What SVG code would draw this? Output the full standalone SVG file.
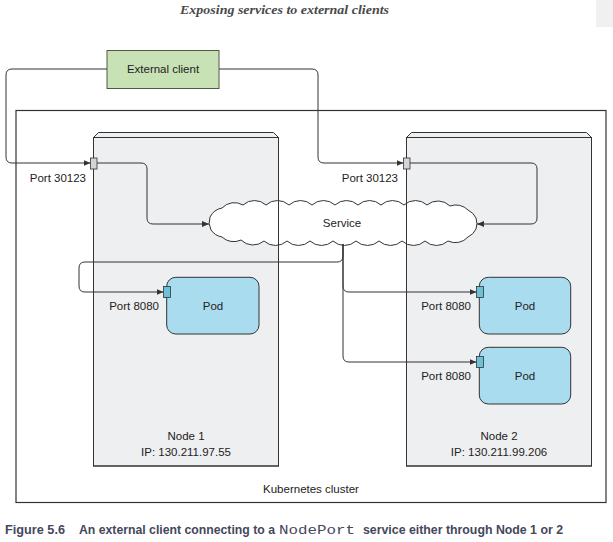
<svg xmlns="http://www.w3.org/2000/svg" width="613" height="542" viewBox="0 0 613 542">
<style>
  .lbl { font-family: "Liberation Sans", Arial, sans-serif; font-size: 11.5px; fill: #222; }
  .mid { text-anchor: middle; }
  .end { text-anchor: end; }
  .node { fill: #eeeff1; stroke: #333; stroke-width: 1; }
  .edge { fill: none; stroke: #333; stroke-width: 1; }
  .pod { fill: #a9dcee; stroke: #333; stroke-width: 1; }
  .nport { fill: #d4d4d6; stroke: #333; stroke-width: 0.8; }
  .pport { fill: #6cc0d8; stroke: #333; stroke-width: 0.8; }
  .conn { fill: none; stroke: #333; stroke-width: 1; }
  .cap { font-family: "Liberation Sans", Arial, sans-serif; font-size: 12px; font-weight: bold; fill: #45475c; }
</style>
<defs>
  <marker id="arr" markerUnits="userSpaceOnUse" markerWidth="8" markerHeight="6" refX="7" refY="3" orient="auto">
    <path d="M0,0 L7,3 L0,6 z" fill="#333"/>
  </marker>
</defs>
<rect width="613" height="542" fill="#ffffff"/>
<rect x="596" y="0" width="17" height="27" fill="#f0f0f0"/>
<text x="180" y="14" font-family="Liberation Serif, 'Times New Roman', serif" font-style="italic" font-weight="bold" font-size="13.5" fill="#4a4a4a" textLength="209" lengthAdjust="spacingAndGlyphs">Exposing services to external clients</text>

<g id="cluster">
  <rect x="16" y="110.5" width="590" height="392" fill="none" stroke="#333" stroke-width="1.2"/>
  <text class="lbl mid" x="311" y="493">Kubernetes cluster</text>
</g>

<g id="node1">
  <path class="node" d="M98.5,132.5 H273.5 L278.5,137.5 H93.5 Z"/>
  <rect class="node" x="93.5" y="137.5" width="185" height="328.5"/>
  <text class="lbl mid" x="186" y="440">Node 1</text>
  <text class="lbl mid" x="186" y="456">IP: 130.211.97.55</text>
</g>
<g id="node2">
  <path class="node" d="M411.5,132.5 H586.5 L591.5,137.5 H406.5 Z"/>
  <rect class="node" x="406.5" y="137.5" width="185" height="328.5"/>
  <text class="lbl mid" x="499" y="440">Node 2</text>
  <text class="lbl mid" x="499" y="456">IP: 130.211.99.206</text>
</g>

<g id="service">
  <path fill="#fff" stroke="#333" stroke-width="1" d="M210,217 A17,17 0 0 1 222,208 A17,17 0 0 1 243,205 A17,17 0 0 1 266,205 A17,17 0 0 1 289,205 A17,17 0 0 1 312,205 A17,17 0 0 1 335,205 A17,17 0 0 1 358,205 A17,17 0 0 1 381,205 A17,17 0 0 1 404,205 A17,17 0 0 1 427,205 A17,17 0 0 1 450,206 A17,17 0 0 1 468,210 A17,17 0 0 1 476,218 A17,17 0 0 1 476,229 A17,17 0 0 1 468,237 A17,17 0 0 1 448,241 A17,17 0 0 1 425,241 A17,17 0 0 1 402,241 A17,17 0 0 1 379,241 A17,17 0 0 1 356,241 A17,17 0 0 1 333,241 A17,17 0 0 1 310,241 A17,17 0 0 1 287,241 A17,17 0 0 1 264,241 A17,17 0 0 1 241,240 A17,17 0 0 1 222,237 A17,17 0 0 1 211,230 A17,17 0 0 1 210,217 Z"/>
  <text class="lbl mid" x="342" y="227">Service</text>
</g>

<g id="node-edges">
  <rect class="edge" x="93.5" y="137.5" width="185" height="328.5"/>
  <rect class="edge" x="406.5" y="137.5" width="185" height="328.5"/>
</g>

<g id="external-client">
  <rect x="107" y="50.5" width="112" height="38" fill="#c8e1b5" stroke="#4e5a44" stroke-width="1"/>
  <text class="lbl mid" x="163" y="73">External client</text>
</g>

<g id="pod1">
  <rect class="pod" x="166.7" y="277.3" width="92.3" height="56.7" rx="9"/>
  <text class="lbl mid" x="213" y="310">Pod</text>
</g>
<g id="pod2">
  <rect class="pod" x="479.3" y="277.3" width="91.4" height="56.7" rx="9"/>
  <text class="lbl mid" x="525" y="310">Pod</text>
</g>
<g id="pod3">
  <rect class="pod" x="479.3" y="347.3" width="91.4" height="56.7" rx="9"/>
  <text class="lbl mid" x="525" y="380">Pod</text>
</g>

<g id="connectors">
  <path class="conn" marker-end="url(#arr)" d="M107,69 H12 Q6,69 6,75 V157 Q6,163 12,163 H90.5"/>
  <path class="conn" marker-end="url(#arr)" d="M219,69 H312 Q318,69 318,75 V157 Q318,163 324,163 H403.5"/>
  <path class="conn" marker-end="url(#arr)" d="M97,163 H141 Q147,163 147,169 V218 Q147,224 153,224 H209"/>
  <path class="conn" marker-end="url(#arr)" d="M410,163 H531 Q537,163 537,169 V218 Q537,224 531,224 H477"/>
  <path class="conn" marker-end="url(#arr)" d="M343,244 V256 Q343,262 337,262 H85 Q79,262 79,268 V286 Q79,292 85,292 H163.5"/>
  <path class="conn" marker-end="url(#arr)" d="M343,244 V286 Q343,292 349,292 H476.5"/>
  <path class="conn" marker-end="url(#arr)" d="M343,244 V356 Q343,362 349,362 H476.5"/>
</g>

<g id="ports">
  <rect class="nport" x="90.5" y="158" width="6.5" height="11"/>
  <text class="lbl end" x="86" y="182">Port 30123</text>
  <rect class="nport" x="403.5" y="158" width="6.5" height="11"/>
  <text class="lbl end" x="398" y="182">Port 30123</text>
  <rect class="pport" x="163.5" y="286.5" width="7" height="11"/>
  <text class="lbl end" x="159" y="310">Port 8080</text>
  <rect class="pport" x="476.5" y="286.5" width="7" height="11"/>
  <text class="lbl end" x="471" y="310">Port 8080</text>
  <rect class="pport" x="476.5" y="356.5" width="7" height="11"/>
  <text class="lbl end" x="471" y="380">Port 8080</text>
</g>

<g id="caption">
  <text class="cap" x="5" y="534" textLength="60" lengthAdjust="spacingAndGlyphs">Figure 5.6</text>
  <text class="cap" x="79" y="534" textLength="196" lengthAdjust="spacingAndGlyphs">An external client connecting to a</text>
  <text x="279" y="534" font-family="Liberation Mono, 'Courier New', monospace" font-size="13" fill="#45475c" textLength="76" lengthAdjust="spacingAndGlyphs">NodePort</text>
  <text class="cap" x="363" y="534" textLength="200" lengthAdjust="spacingAndGlyphs">service either through Node 1 or 2</text>
</g>
</svg>
